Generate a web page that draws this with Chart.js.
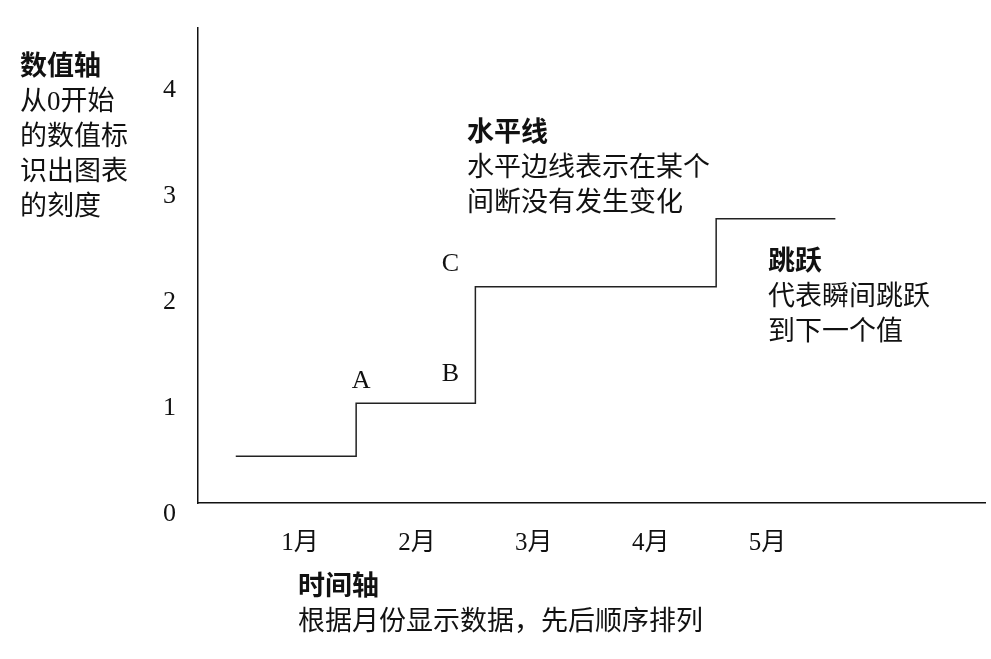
<!DOCTYPE html>
<html>
<head>
<meta charset="utf-8">
<script src="https://cdn.jsdelivr.net/npm/chart.js@4"></script>
<style>
  body { margin: 0; background: #fff; }
  #wrap { width: 991px; height: 659px; }
</style>
</head>
<body>
<div id="wrap"><canvas id="c"></canvas></div>
<script>
// months on the time axis
var months = ['1月', '2月', '3月', '4月', '5月'];
// step line corners (x in month units, y on the value axis)
var stepX = [0.45, 1.48, 2.5, 4.56, 5.58];
var stepY = [0.44, 0.94, 2.04, 2.68, 2.68];
var yTicks = [0, 1, 2, 3, 4];

var cjk = '"Liberation Serif", "Noto Sans CJK SC", serif';
var ink = '#111';

// text notes around the chart
var notes = [
  { x: 20, y: 68, lines: ['数值轴', '从0开始', '的数值标', '识出图表', '的刻度'] },
  { x: 467, y: 134, lines: ['水平线', '水平边线表示在某个', '间断没有发生变化'] },
  { x: 768, y: 263, lines: ['跳跃', '代表瞬间跳跃', '到下一个值'] },
  { x: 298, y: 588, lines: ['时间轴', '根据月份显示数据，先后顺序排列'] }
];

var notePlugin = {
  id: 'notes',
  afterDraw: function(chart) {
    var ctx = chart.ctx;
    var xs = chart.scales.x, ys = chart.scales.y;
    ctx.save();
    ctx.fillStyle = ink;
    ctx.textBaseline = 'middle';
    ctx.textAlign = 'left';
    notes.forEach(function(n) {
      n.lines.forEach(function(t, i) {
        ctx.font = (i == 0 ? 'bold ' : '') + '27px ' + cjk;
        ctx.fillText(t, n.x, n.y + i * 35);
      });
    });
    // A, B, C next to the step corners
    ctx.textAlign = 'center';
    ctx.font = '26px ' + cjk;
    ctx.fillText('A', xs.getPixelForValue(stepX[1]) + 5, ys.getPixelForValue(stepY[1]) - 22);
    ctx.fillText('B', xs.getPixelForValue(stepX[2]) - 25, ys.getPixelForValue(stepY[1]) - 29);
    ctx.fillText('C', xs.getPixelForValue(stepX[2]) - 25, ys.getPixelForValue(stepY[2]) - 23);
    ctx.restore();
  }
};

var pts = [];
for (var i = 0; i < stepX.length; i++) pts.push({ x: stepX[i], y: stepY[i] });

new Chart(document.getElementById('c'), {
  type: 'line',
  data: {
    datasets: [{
      data: pts,
      stepped: 'before',
      borderColor: '#222',
      borderWidth: 1.5,
      pointRadius: 0,
      fill: false
    }]
  },
  options: {
    responsive: true,
    maintainAspectRatio: false,
    animation: false,
    layout: { padding: { left: 0, top: 28, right: 6, bottom: 0 } },
    plugins: { legend: { display: false }, tooltip: { enabled: false } },
    scales: {
      x: {
        type: 'linear',
        min: 0.127,
        max: 6.86,
        grid: { display: false, drawTicks: false },
        border: { display: true, color: ink, width: 1.5 },
        afterBuildTicks: function(s) {
          s.ticks = months.map(function(m, i) { return { value: i + 1 }; });
        },
        afterFit: function(s) {
          s.height = 156;
          s.paddingLeft = 0; s.paddingRight = 0;
        },
        ticks: {
          color: ink,
          padding: 25,
          maxRotation: 0,
          font: { family: cjk, size: 25 },
          callback: function(v) { return months[v - 1]; }
        }
      },
      y: {
        min: 0,
        max: 4.48,
        grid: { display: false, drawTicks: false },
        border: { display: true, color: ink, width: 1.5 },
        afterBuildTicks: function(s) {
          s.ticks = yTicks.map(function(v) { return { value: v }; });
        },
        afterFit: function(s) {
          s.width = 198;
          s.paddingTop = 0; s.paddingBottom = 0;
        },
        ticks: {
          color: ink,
          padding: 22,
          labelOffset: 11,
          font: { family: cjk, size: 26 }
        }
      }
    }
  },
  plugins: [notePlugin]
});
</script>
</body>
</html>
